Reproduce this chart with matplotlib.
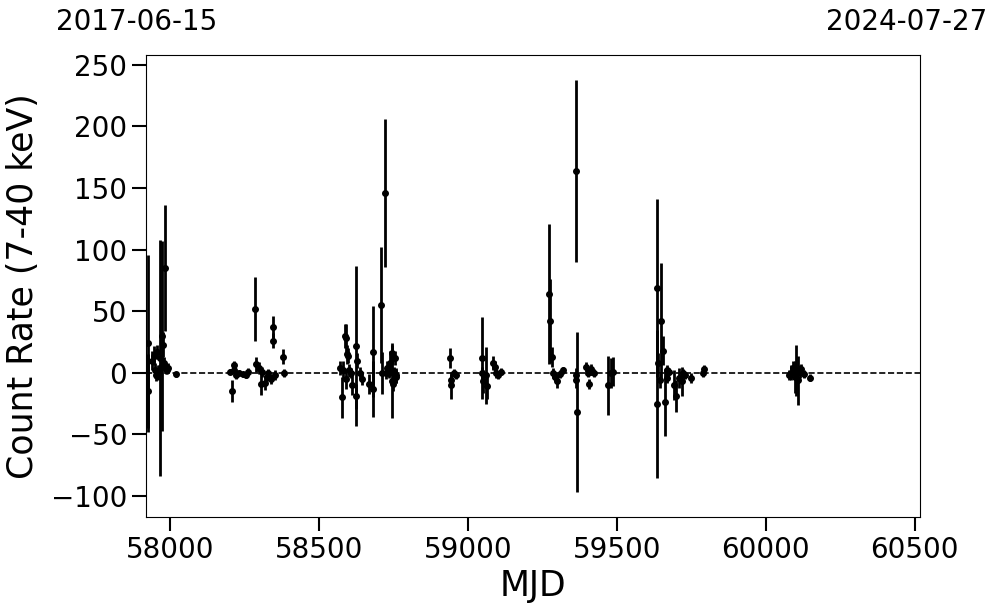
import matplotlib
matplotlib.use("Agg")
import matplotlib.pyplot as plt
import numpy as np

# light curve (MJD, rate, 1-sigma error)
mjd = [57926, 57927, 57939, 57946, 57949, 57953, 57956, 57959, 57966, 57969,
       57972, 57975, 57983, 57980, 57986, 57988, 57993, 58020,
       58201, 58209, 58214, 58216, 58220, 58232, 58245, 58255, 58262, 58285,
       58290, 58298, 58305, 58310, 58318, 58325, 58330, 58338, 58345, 58347,
       58352, 58378, 58381,
       58570, 58577, 58580, 58587, 58590, 58592, 58594, 58597, 58602, 58606,
       58612, 58624, 58625, 58628, 58638, 58646, 58668, 58681, 58683, 58708,
       58710, 58721, 58725, 58730, 58745, 58746, 58747, 58752, 58755, 58757,
       58740, 58735, 58760,
       58940, 58942, 58944, 58955, 58960,
       59046, 59048, 59050, 59062, 59064, 59085, 59090, 59095, 59100, 59110,
       59274, 59275, 59282, 59287, 59292, 59300, 59310, 59320, 59363, 59362,
       59364, 59365, 59395, 59402, 59408, 59414, 59418, 59422, 59470, 59482,
       59488,
       59635, 59636, 59648, 59654, 59640, 59645, 59662, 59668, 59676, 59670,
       59692, 59698, 59708, 59718, 59722, 59728, 59748, 59788, 59792,
       60078, 60085, 60092, 60098, 60102, 60108, 60115, 60120, 60130, 60150]
rate = [24, -15, 10, 14, 2, -2, 17, 0, 12, 5,
        30, 23, 85, 8, 3, 2, 4, -1,
        1, -15, 6, 2, -2, 0, -1, -2, 1, 52,
        7, 4, -9, 1, -8, -3, 0, -5, 37, 26,
        -2, 13, 0,
        4, -20, 2, 30, -5, 28, 15, 14, 2, 0,
        -10, 22, -19, 10, 0, -5, -9, 17, -13, 55,
        0, 146, 0, 4, 16, -7, -9, 1, 12, -3,
        8, 0, -2,
        12, -6, -10, 0, -2,
        12, 0, -7, -2, -11, 8, 5, 0, -2, 1,
        64, 42, 13, 0, -3, -7, -1, 2, 164, -2,
        -6, -32, 5, 0, -9, 3, 1, 0, -10, 0,
        1,
        69, -25, 42, 18, 8, -6, -24, 2, 1, -4,
        -10, -19, -4, -7, 0, -2, -4, 0, 3,
        -2, 0, 4, -3, 2, -6, 1, 3, -1, -4]
err = [72, 30, 8, 8, 6, 5, 6, 6, 96, 5,
       77, 10, 51, 5, 4, 3, 4, 2,
       2, 9, 4, 3, 3, 2, 2, 2, 3, 26,
       6, 5, 9, 4, 6, 4, 3, 4, 9, 6,
       4, 6, 3,
       6, 17, 8, 10, 8, 12, 8, 6, 5, 4,
       8, 65, 10, 6, 5, 5, 8, 37, 23, 47,
       17, 60, 5, 6, 8, 30, 6, 4, 6, 5,
       10, 4, 6,
       8, 5, 11, 3, 3,
       33, 5, 9, 23, 10, 6, 5, 4, 3, 3,
       57, 34, 8, 4, 4, 5, 3, 3, 74, 6,
       6, 65, 4, 3, 4, 4, 3, 3, 24, 12,
       12,
       72, 60, 47, 12, 8, 6, 27, 4, 3, 4,
       12, 13, 8, 12, 3, 3, 4, 3, 3,
       4, 6, 6, 13, 21, 20, 5, 4, 3, 3]

start_date = "2017-06-15"
end_date = "2024-07-27"
mjd_lo, mjd_hi = 57919, 60518

fig = plt.figure(figsize=(9.97, 6.13), dpi=100)
ax = fig.add_axes([0.1464, 0.1566, 0.7763, 0.7537])

ax.errorbar(mjd, rate, yerr=err, fmt='o', color='black', ms=4, elinewidth=2, capsize=0)
ax.axhline(0, color='black', ls='--', lw=1.2)

ax.set_xlim(mjd_lo, mjd_hi)
ax.set_ylim(-117, 258)
ax.set_xticks([58000, 58500, 59000, 59500, 60000, 60500])
ax.tick_params(axis='both', which='major', labelsize=20, length=10, width=1.5)
ax.set_xlabel("MJD", fontsize=25)
ax.set_ylabel("Count Rate (7-40 keV)", fontsize=25, labelpad=8)

# calendar dates of the plot edges
ax.text(-0.012, 1.071, start_date, transform=ax.transAxes, ha='center', va='center', fontsize=20)
ax.text(0.983, 1.071, end_date, transform=ax.transAxes, ha='center', va='center', fontsize=20)

fig.savefig("out.png", dpi=100)
